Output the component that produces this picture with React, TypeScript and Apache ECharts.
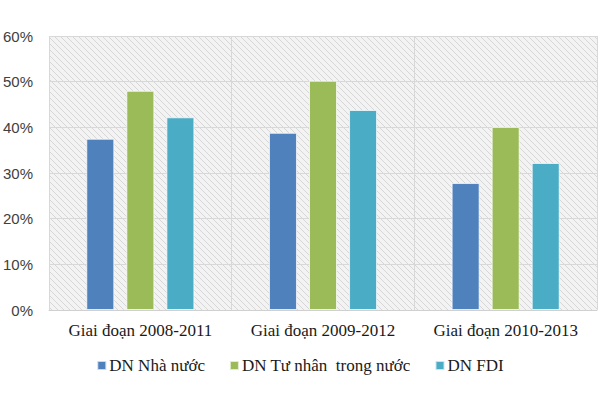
import React, { useEffect, useRef } from "react";
import * as echarts from "echarts";

const categories = ["Giai đoạn 2008-2011", "Giai đoạn 2009-2012", "Giai đoạn 2010-2013"];
const seriesNames = ["DN Nhà nước", "DN Tư nhân  trong nước", "DN FDI"];
const stateValues = [37.5, 38.8, 27.8];
const privateValues = [48.0, 50.2, 40.1];
const fdiValues = [42.2, 43.8, 32.2];
const colors = ["#4f81bd", "#9bbb59", "#4bacc6"];

function makePattern(): string {
  const c = document.createElement("canvas");
  c.width = 6;
  c.height = 6;
  const ctx = c.getContext("2d")!;
  ctx.fillStyle = "#f3f3f3";
  ctx.fillRect(0, 0, 6, 6);
  ctx.strokeStyle = "#d6d6d6";
  ctx.lineWidth = 1;
  for (const off of [-6, 0, 6]) {
    ctx.beginPath();
    ctx.moveTo(off, 0);
    ctx.lineTo(off + 6, 6);
    ctx.stroke();
  }
  return c.toDataURL();
}

export default function App() {
  const ref = useRef<HTMLDivElement>(null);
  useEffect(() => {
    if (!ref.current) return;
    const chart = echarts.init(ref.current, null, { renderer: "svg" });
    const pattern = makePattern();
    const vals = [stateValues, privateValues, fdiValues];
    chart.setOption({
      animation: false,
      backgroundColor: "#ffffff",
      grid: {
        left: 49,
        right: 3,
        top: 36,
        bottom: 95,
        show: true,
        backgroundColor: { image: pattern, repeat: "repeat" },
        borderWidth: 0,
      },
      legend: {
        bottom: 26,
        left: "center",
        itemWidth: 9,
        itemHeight: 9,
        itemGap: 24,
        icon: "rect",
        textStyle: { fontFamily: "'Liberation Serif', serif", fontSize: 17, color: "#1a1a1a", padding: [0, 0, 0, -2] },
        data: seriesNames,
      },
      xAxis: {
        type: "category",
        data: categories,
        axisTick: { show: false },
        axisLine: { lineStyle: { color: "#d0d0d0" } },
        axisLabel: {
          interval: 0,
          hideOverlap: false,
          fontFamily: "'Liberation Serif', serif",
          fontSize: 17,
          color: "#1a1a1a",
          margin: 12,
        },
        splitLine: { show: true, interval: 0, lineStyle: { color: "#d8d8d8" } },
      },
      yAxis: {
        type: "value",
        min: 0,
        max: 60,
        interval: 10,
        axisLabel: {
          formatter: "{value}%",
          fontFamily: "'Liberation Sans', sans-serif",
          fontSize: 15,
          color: "#404040",
          margin: 16,
        },
        axisLine: { show: false },
        axisTick: { show: false },
        splitLine: { lineStyle: { color: "#d8d8d8" } },
      },
      series: seriesNames.map((n, i) => ({
        name: n,
        type: "bar",
        data: vals[i],
        barWidth: 28,
        barGap: "43%",
        itemStyle: { color: colors[i], borderColor: "rgba(255,255,255,0.7)", borderWidth: 1 },
      })),
    });
    return () => chart.dispose();
  }, []);
  return <div ref={ref} style={{ width: 600, height: 405, position: "absolute", left: 0, top: 0 }} />;
}
